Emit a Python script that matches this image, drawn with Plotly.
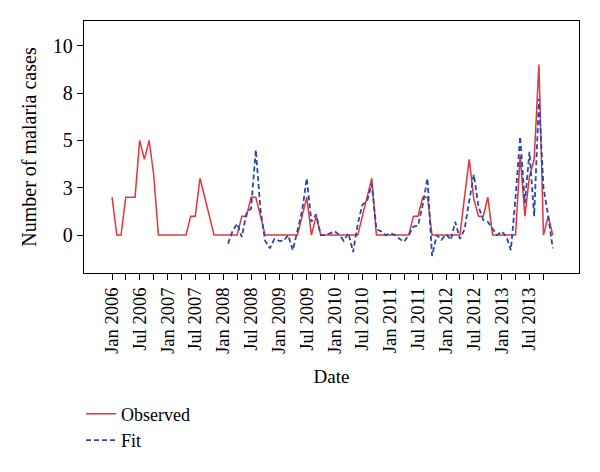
import pandas as pd
import plotly.graph_objects as go

# Monthly observed malaria cases, Jan 2006 - Dec 2013
obs_dates = pd.date_range("2006-01-01", "2013-12-01", freq="MS")
observed = [
    2, 0, 0, 2, 2, 2, 5, 4, 5, 3.2, 0, 0,          # 2006
    0, 0, 0, 0, 0, 1, 1, 3, 2, 1, 0, 0,            # 2007
    0, 0, 0, 0, 1, 1, 2, 2, 1, 0, 0, 0,            # 2008
    0, 0, 0, 0, 0, 1, 2, 0, 1, 0, 0, 0,            # 2009
    0, 0, 0, 0, 0, 0, 1, 2, 3, 0, 0, 0,            # 2010
    0, 0, 0, 0, 0, 1, 1, 2, 2, 0, 0, 0,            # 2011
    0, 0, 0, 0, 2, 4, 1.9, 1, 1, 2, 0, 0,          # 2012
    0, 0, 0, 0, 4.2, 1, 3.1, 4, 9, 0, 1, 0,        # 2013
]

# Fitted values, Feb 2008 - Dec 2013
fit_dates = pd.date_range("2008-02-01", "2013-12-01", freq="MS")
fitted = [
    -0.45, 0.2, 0.6, -0.1, 1.15, 1.4, 4.5, 1.3, -0.3, -0.7, -0.2,        # 2008 (Feb-Dec)
    -0.3, -0.3, 0.0, -0.8, 0.3, 1.3, 3.0, 0.7, 1.1, 0.0, 0.0, 0.1,       # 2009
    0.2, 0.0, -0.3, 0.1, -0.9, 0.6, 1.6, 1.8, 2.7, 0.3, 0.2, 0.0,        # 2010
    0.1, 0.0, -0.2, -0.35, 0.0, 0.45, 0.5, 1.6, 3.0, -1.1, 0.0, -0.25,   # 2011
    0.05, -0.25, 0.7, -0.2, 0.3, 1.8, 3.2, 1.5, 0.8, 0.7, 0.35, 0.0,     # 2012
    0.2, -0.1, -0.8, 2.0, 5.2, 1.7, 4.4, 1.0, 7.2, 2.5, 1.0, -0.7,       # 2013
]

# Axis ticks
x_tick_dates = pd.date_range("2006-01-01", "2013-10-01", freq="QS")
x_tick_text = [d.strftime("%b %Y") if d.month in (1, 7) else "" for d in x_tick_dates]
y_tick_vals = [0, 2.5, 5, 7.5, 10]
y_tick_text = ["0", "3", "5", "8", "10"]

FONT = "Liberation Serif"
RED = "#e2343a"
BLUE = "#2a48a8"

fig = go.Figure()
fig.add_trace(go.Scatter(
    x=obs_dates, y=observed, mode="lines", name="Observed",
    line=dict(color=RED, width=1.5),
))
fig.add_trace(go.Scatter(
    x=fit_dates, y=fitted, mode="lines", name="Fit",
    line=dict(color=BLUE, width=1.8, dash="5px,3px"),
))

fig.update_layout(
    width=592, height=464,
    margin=dict(l=76, r=21, t=13, b=199, autoexpand=False),
    paper_bgcolor="white", plot_bgcolor="white",
    font=dict(family=FONT, size=18, color="black"),
    showlegend=True,
    legend=dict(
        x=-0.006, xanchor="left", y=-0.486, yanchor="top",
        font=dict(family=FONT, size=18, color="black"),
        bgcolor="rgba(0,0,0,0)", tracegroupgap=0,
    ),
    xaxis=dict(
        range=["2005-07-01", "2014-05-22"], automargin=False,
        tickmode="array", tickvals=x_tick_dates, ticktext=x_tick_text,
        tickangle=-90, ticks="outside", ticklen=6, tickwidth=1.2, tickcolor="black",
        showline=True, linecolor="black", linewidth=1.4, mirror=True,
        showgrid=False, zeroline=False,
        tickfont=dict(family=FONT, size=18.5, color="black"),
        title=dict(text="Date", font=dict(family=FONT, size=19, color="black"), standoff=16),
    ),
    yaxis=dict(
        range=[-2.0, 11.3], automargin=False,
        tickmode="array", tickvals=y_tick_vals, ticktext=y_tick_text,
        ticks="outside", ticklen=6, tickwidth=1.2, tickcolor="black",
        ticklabelstandoff=0,
        showline=True, linecolor="black", linewidth=1.4, mirror=True,
        showgrid=False, zeroline=False,
        tickfont=dict(family=FONT, size=20, color="black"),
        title=dict(text="Number of malaria cases", font=dict(family=FONT, size=20, color="black"), standoff=10),
    ),
)

fig.write_html("out.html")
